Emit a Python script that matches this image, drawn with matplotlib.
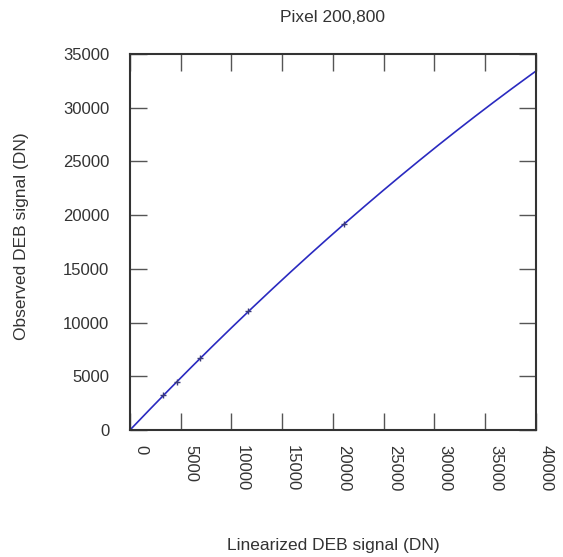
import numpy as np
import matplotlib
matplotlib.use('Agg')
import matplotlib.pyplot as plt
from matplotlib.transforms import ScaledTranslation

plt.rcParams['font.family'] = ['Liberation Sans', 'DejaVu Sans']

# measured points (linearized, observed)
lin_x = [3290, 4670, 6930, 11650, 21100]
obs_y = [3260, 4470, 6700, 11080, 19180]
# quadratic fit coefficients: y = a*x + b*x^2
fit_a = 0.991
fit_b = -3.89e-6
xticks = [0, 5000, 10000, 15000, 20000, 25000, 30000, 35000, 40000]
yticks = [0, 5000, 10000, 15000, 20000, 25000, 30000, 35000]

fig = plt.figure(figsize=(5.63, 5.57), dpi=100)
ax = fig.add_axes([0.2309, 0.228, 0.7211, 0.675])

xs = np.linspace(0, 40000, 200)
ax.plot(xs, fit_a * xs + fit_b * xs ** 2, color='#2a2ac0', lw=1.2)
ax.plot(lin_x, obs_y, ls='none', marker='+', ms=5, mew=1, color='#3a3a7a')

ax.set_xlim(0, 40000)
ax.set_ylim(0, 35000)
ax.set_xticks(xticks)
ax.set_yticks(yticks)
ax.set_xticklabels([])
ax.set_yticklabels([str(v) for v in yticks], fontsize=12, color='#333333')

# rotated x tick labels, shifted right of the tick like the original
trans = ax.get_xaxis_transform() + ScaledTranslation(3 / 100, -15 / 100, fig.dpi_scale_trans)
for v in xticks:
    ax.text(v, 0, str(v), transform=trans, rotation=270, ha='left', va='top',
            fontsize=12, color='#333333')

ax.tick_params(direction='in', length=12, width=1, color='#555555',
               top=True, right=True, labeltop=False, labelright=False)
ax.tick_params(axis='y', pad=15)
for sp in ax.spines.values():
    sp.set_color('#333333')
    sp.set_linewidth(1.5)

ax.set_title('Pixel 200,800', fontsize=12.5, color='#333333', pad=23)
ax.set_xlabel('Linearized DEB signal (DN)', fontsize=12.5, color='#333333')
ax.set_ylabel('Observed DEB signal (DN)', fontsize=12.5, color='#333333')
ax.yaxis.set_label_coords(-0.25, 0.516)
ax.xaxis.set_label_coords(0.5, -0.288)

fig.savefig('out.png', dpi=100)
